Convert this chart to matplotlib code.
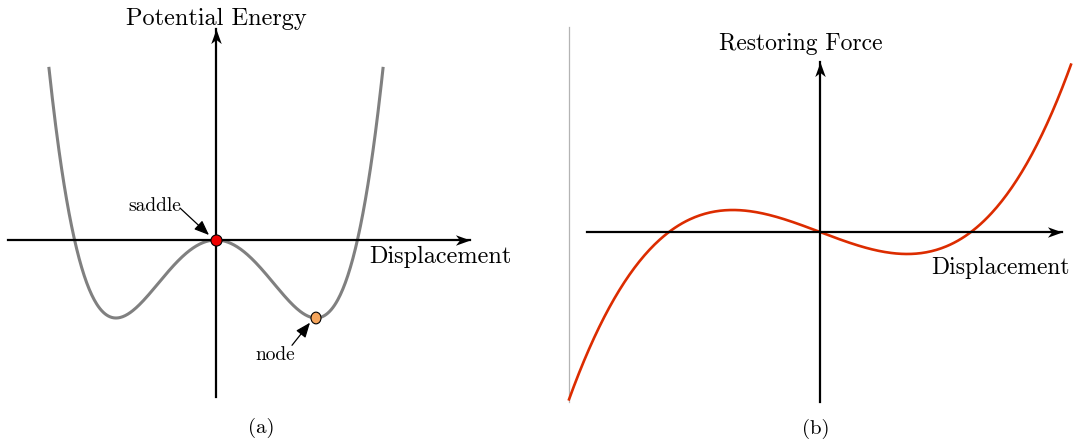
import numpy as np
import matplotlib
matplotlib.use("Agg")
import matplotlib.pyplot as plt
from matplotlib.patches import Ellipse

plt.rcParams['font.family'] = ['cmr10', 'DejaVu Serif']

# double-well potential U(x) = x^4 - 2x^2 and its restoring force F(x) = x^3 - x
x_pot = np.linspace(-1.67, 1.67, 400)
u_pot = x_pot**4 - 2 * x_pot**2
x_force = np.linspace(-1.662, 1.662, 400)
f_force = x_force**3 - x_force

saddle = (0.0, 0.0)
node = (1.0, -1.0)

W, H = 1075, 444
fig = plt.figure(figsize=(W / 100, H / 100), dpi=100)

# stealth-style arrow heads, tip at the marker's anchor point
HEAD_RIGHT = [(0, 0), (-1, 0.36), (-0.72, 0), (-1, -0.36), (0, 0)]
HEAD_UP = [(0, 0), (-0.36, -1), (0, -0.72), (0.36, -1), (0, 0)]


def panel(px0, px1, ox, oy, sx, sy):
    # axes spanning pixel columns px0..px1, origin at pixel (ox, oy)
    ax = fig.add_axes([px0 / W, 0, (px1 - px0) / W, 1])
    ax.set_xlim((px0 - ox) / sx, (px1 - ox) / sx)
    ax.set_ylim((oy - H) / sy, oy / sy)
    ax.axis('off')
    return ax


def axes_lines(ax, xr, yr):
    ax.plot(xr, [0, 0], color='black', lw=1.6, zorder=3)
    ax.plot([0, 0], yr, color='black', lw=1.6, zorder=3)
    ax.plot(xr[1], 0, marker=HEAD_RIGHT, ms=21, color='black', mew=0, zorder=4)
    ax.plot(0, yr[1], marker=HEAD_UP, ms=21, color='black', mew=0, zorder=4)


small_arrow = dict(arrowstyle='-|>,head_length=0.6,head_width=0.24', color='black',
                   lw=0.9, mutation_scale=15, shrinkA=0, shrinkB=0)

# (a) potential energy
ax1 = panel(0, 537.5, 216, 240, 100, 78)
ax1.plot(x_pot, u_pot, color='#808080', lw=2.2, zorder=2)
axes_lines(ax1, (-2.08, 2.54), (-2.01, 2.70))
ax1.text(0, 2.756, 'Potential Energy', ha='center', va='baseline', fontsize=17.5)
ax1.text(1.53, -0.295, 'Displacement', ha='left', va='baseline', fontsize=17.5)
ax1.plot(*saddle, 'o', ms=8, mfc='#ee0000', mec='black', mew=0.8, zorder=5)
ax1.add_patch(Ellipse(node, 0.1, 0.15, fc='#f5a55c', ec='black', lw=0.8, zorder=5))
ax1.text(-0.35, 0.372, 'saddle', ha='right', va='baseline', fontsize=14)
ax1.annotate('', xy=(-0.07, 0.064), xytext=(-0.36, 0.41), arrowprops=small_arrow)
ax1.text(0.79, -1.54, 'node', ha='right', va='baseline', fontsize=14)
ax1.annotate('', xy=(0.94, -1.06), xytext=(0.76, -1.35), arrowprops=small_arrow)
ax1.text(0.45, -2.41, '(a)', ha='center', va='center', fontsize=15)

# (b) restoring force
sy_b = 22 / 0.385
ax2 = panel(537.5, 1075, 820, 232, 151, sy_b)
ax2.plot([(569 - 820) / 151] * 2, [(232 - 402) / sy_b, (232 - 27) / sy_b],
         color='#b4b4b4', lw=0.9)
ax2.plot(x_force, f_force, color='#dc2c00', lw=1.9, zorder=2)
axes_lines(ax2, (-1.54, 1.60), (-2.98, 2.98))
ax2.text(-0.126, 3.185, 'Restoring Force', ha='center', va='baseline', fontsize=17)
ax2.text(1.656, -0.735, 'Displacement', ha='right', va='baseline', fontsize=17)
ax2.text(-0.03, -3.45, '(b)', ha='center', va='center', fontsize=15)

fig.savefig('out.png', dpi=100)
